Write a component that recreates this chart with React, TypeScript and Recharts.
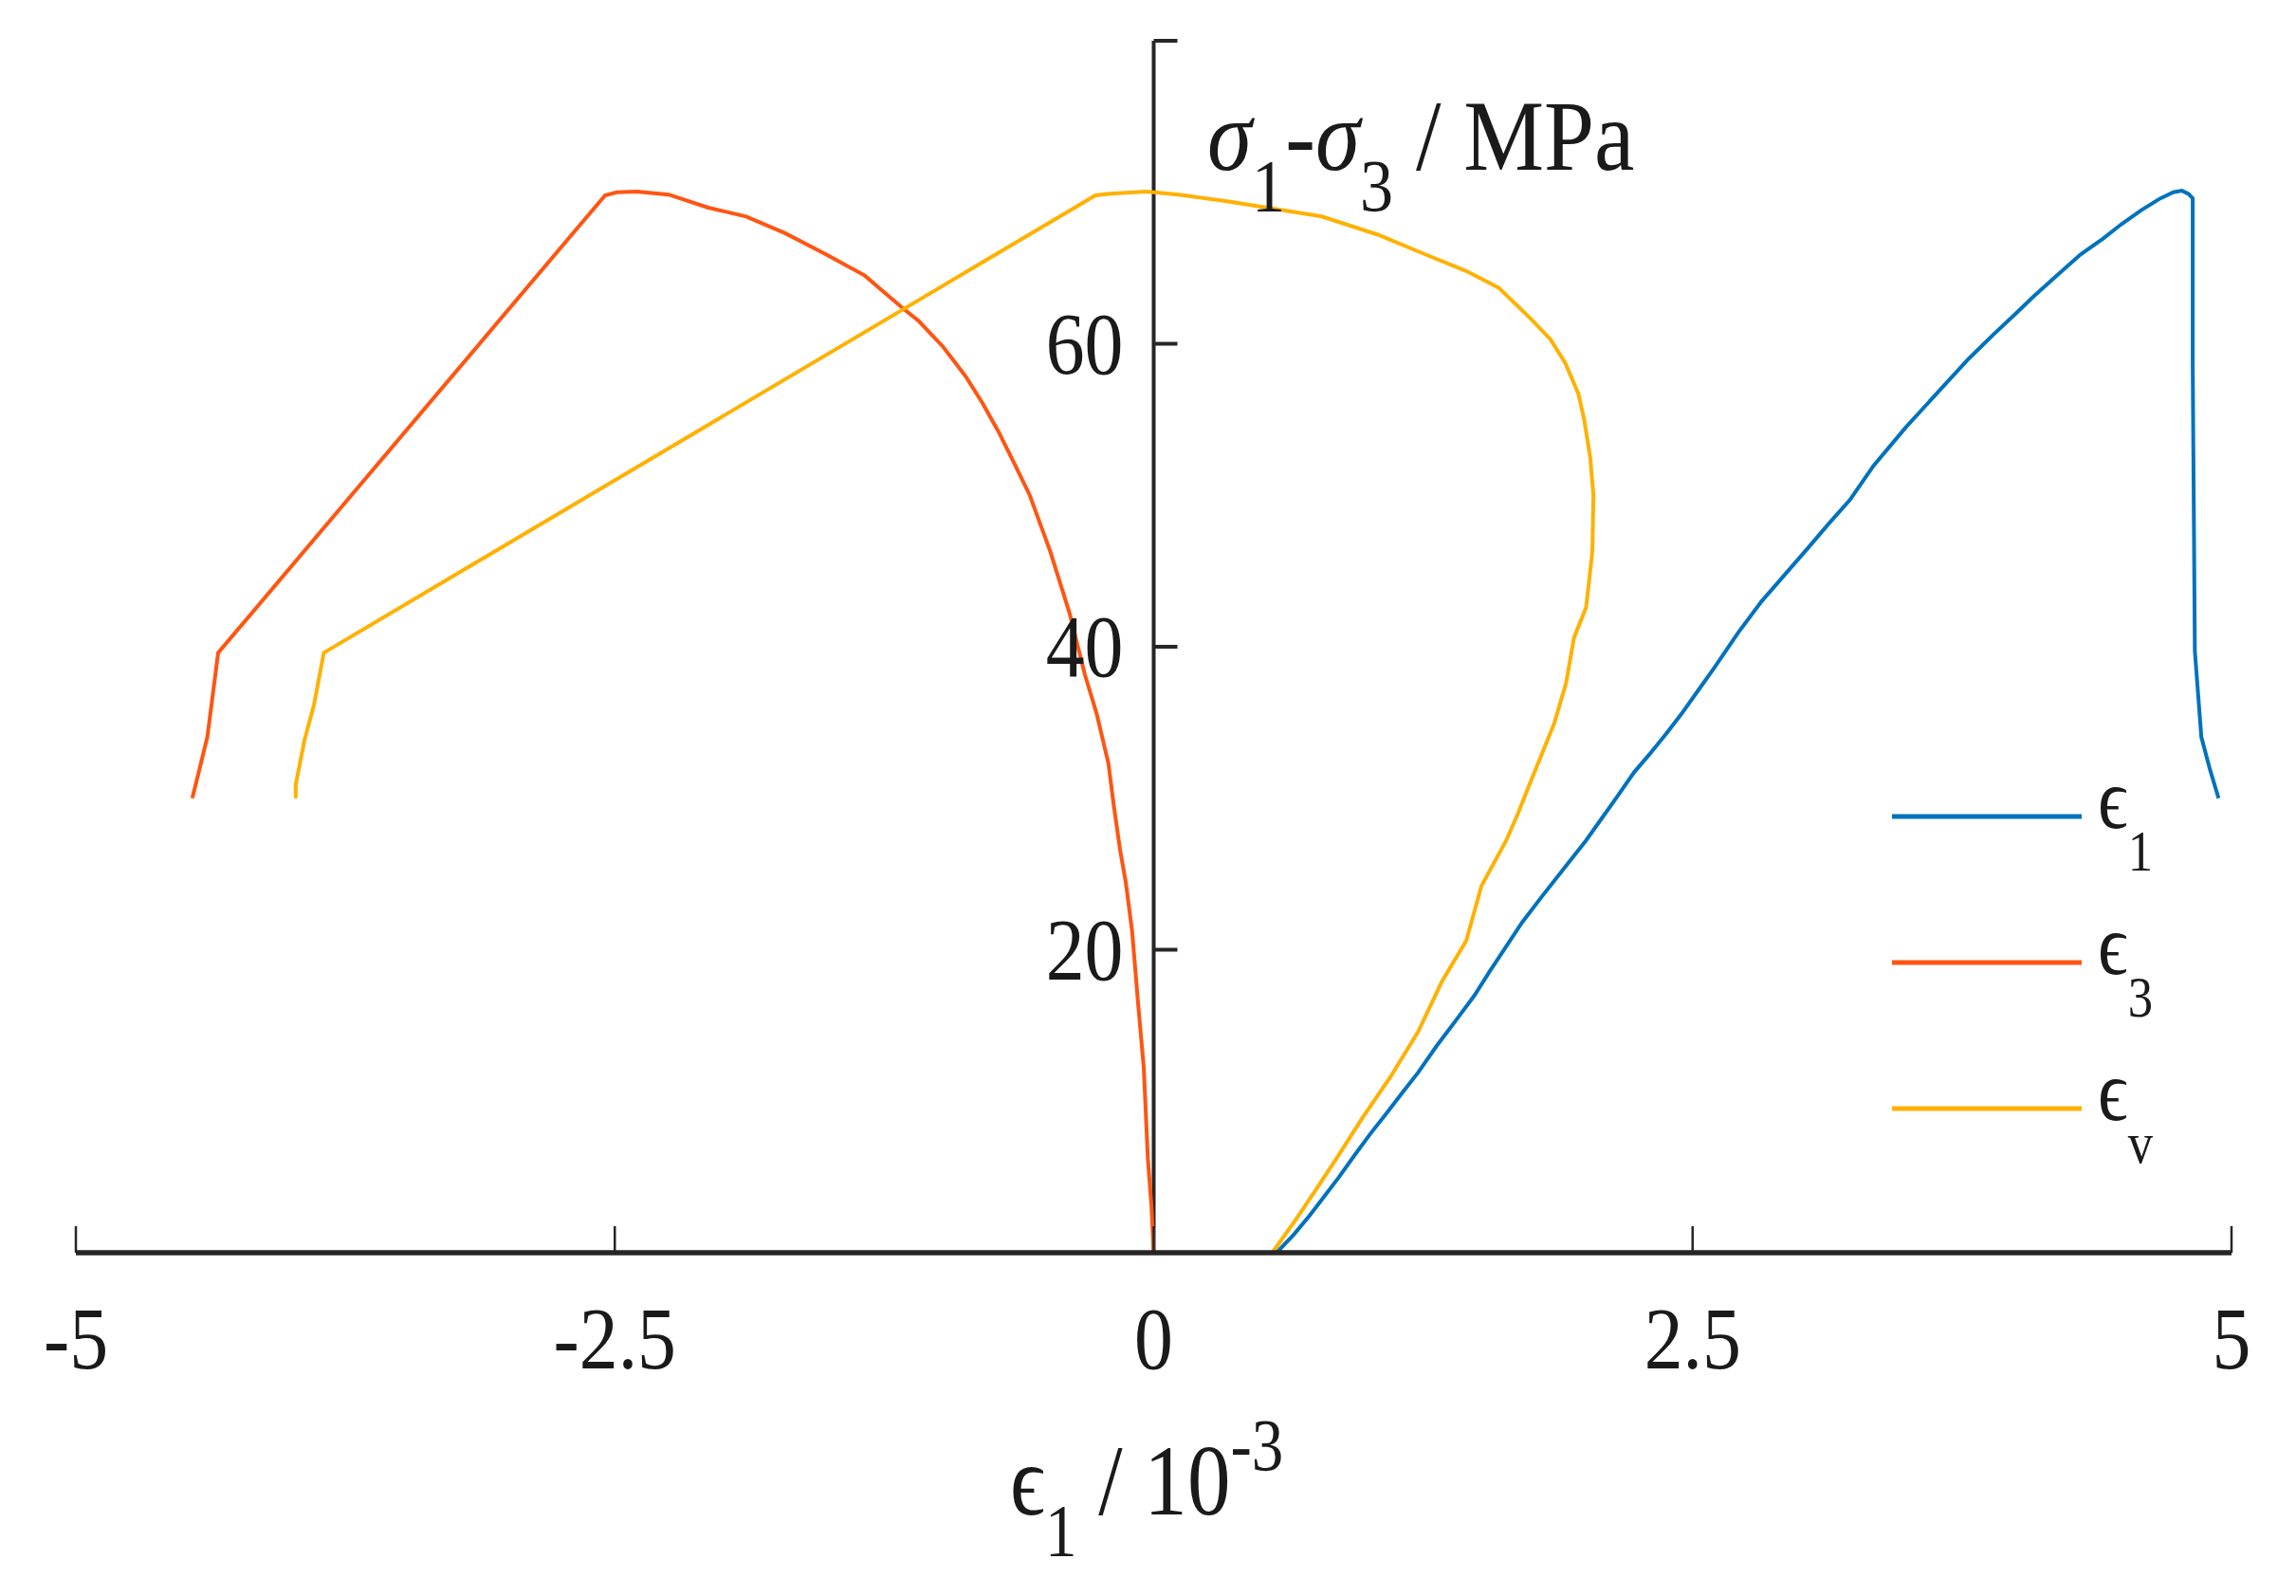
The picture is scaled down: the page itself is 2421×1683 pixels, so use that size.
import React from 'react';
import { LineChart, Line, XAxis, YAxis, ReferenceLine, Legend } from 'recharts';

// strain (10^-3) vs deviatoric stress (MPa)
const eps1: [number, number][] = [
  [0.57, 0], [0.65, 1.2], [0.72, 2.4], [0.78, 3.5], [0.86, 5.0], [0.93, 6.4],
  [1.005, 7.85], [1.08, 9.2], [1.15, 10.5], [1.227, 11.9], [1.31, 13.6], [1.4, 15.3],
  [1.487, 16.96], [1.56, 18.6], [1.63, 20.1], [1.709, 21.8], [1.8, 23.5], [1.9, 25.3],
  [2.005, 27.2], [2.08, 28.7], [2.15, 30.1], [2.228, 31.7], [2.3, 32.9], [2.38, 34.3],
  [2.45, 35.6], [2.53, 37.2], [2.6, 38.6], [2.71, 40.9], [2.82, 43.0], [2.93, 44.8],
  [3.04, 46.6], [3.13, 48.1], [3.23, 49.7], [3.34, 51.96], [3.49, 54.5], [3.58, 55.9],
  [3.67, 57.3], [3.78, 59.0], [3.895, 60.6], [4.0, 62.0], [4.08, 63.1], [4.19, 64.5],
  [4.3, 65.9], [4.4, 66.9], [4.49, 67.9], [4.58, 68.8], [4.67, 69.6], [4.73, 70.0],
  [4.77, 70.1], [4.8, 69.9], [4.82, 69.6], [4.82, 58.7], [4.83, 39.7], [4.86, 34.05],
  [4.9, 31.9], [4.94, 30.0],
];

const eps3: [number, number][] = [
  [0, 0], [-0.01, 3], [-0.027, 6.2], [-0.046, 12.2], [-0.072, 16.4], [-0.1, 21.2],
  [-0.13, 24.5], [-0.156, 26.6], [-0.185, 29.5], [-0.21, 32.3], [-0.265, 35.6],
  [-0.32, 38.2], [-0.39, 42.2], [-0.48, 46.3], [-0.575, 50.0], [-0.65, 52.2],
  [-0.72, 54.2], [-0.795, 56.1], [-0.87, 57.8], [-0.977, 59.8], [-1.09, 61.5],
  [-1.16, 62.3], [-1.25, 63.4], [-1.34, 64.5], [-1.52, 65.9], [-1.71, 67.3],
  [-1.89, 68.4], [-2.07, 69.0], [-2.25, 69.85], [-2.4, 70.05], [-2.49, 70.0],
  [-2.545, 69.8], [-4.34, 39.6], [-4.39, 34.05], [-4.42, 32.3], [-4.46, 30.0],
];

const epsV: [number, number][] = [
  [0.55, 0], [0.66, 2.2], [0.764, 4.4], [0.87, 6.7], [0.968, 8.9], [1.098, 11.6],
  [1.227, 14.6], [1.337, 17.9], [1.45, 20.6], [1.52, 24.2], [1.635, 27.2], [1.69, 29.0],
  [1.746, 31.0], [1.857, 34.9], [1.913, 37.6], [1.95, 40.6], [2.006, 42.6], [2.035, 46.3],
  [2.04, 50.0], [2.025, 52.5], [1.997, 55.0], [1.97, 56.7], [1.91, 58.7], [1.84, 60.3],
  [1.746, 61.7], [1.6, 63.7], [1.45, 64.8], [1.26, 65.9], [1.04, 67.2], [0.78, 68.4],
  [0.56, 68.9], [0.34, 69.4], [0.115, 69.85], [-0.033, 70.05], [-0.2, 69.9],
  [-0.27, 69.8], [-3.85, 39.6], [-3.895, 36.2], [-3.94, 33.8], [-3.98, 30.9], [-3.98, 30.0],
];

const X_TICKS = [-5, -2.5, 0, 2.5, 5];
const Y_TICKS = [20, 40, 60, 80];
const X_DOMAIN: [number, number] = [-5, 5];
const Y_DOMAIN: [number, number] = [0, 80];

const SERIES = [
  { name: 'ϵ1', color: '#0072BD', points: eps1 },
  { name: 'ϵ3', color: '#FF5512', points: eps3 },
  { name: 'ϵv', color: '#FFB100', points: epsV },
];

const W = 2421;
const H = 1683;
const XAXIS_H = 60;
const MARGIN = { top: 43, right: 68, left: 79, bottom: 302 };
const PLOT_LEFT = MARGIN.left + 1;
const PLOT_W = W - PLOT_LEFT - MARGIN.right;
const AXIS_Y = H - MARGIN.bottom - XAXIS_H;
// pixel position of x = 0, where the y axis crosses
const X0 = PLOT_LEFT + (PLOT_W * (0 - X_DOMAIN[0])) / (X_DOMAIN[1] - X_DOMAIN[0]);

const FONT = '"Liberation Serif", "Times New Roman", "DejaVu Serif", serif';
const INK = '#262626';
const TEXT = '#1a1a1a';

const XTick = (props: any) => {
  const { x, payload } = props;
  return (
    <g>
      <line x1={x} x2={x} y1={AXIS_Y} y2={AXIS_Y - 28} stroke={INK} strokeWidth={2.5} />
      <text
        transform={`translate(${x},${AXIS_Y + 122}) scale(0.87,1)`}
        textAnchor="middle"
        fontFamily={FONT}
        fontSize={94}
        fill={TEXT}
      >
        {payload.value}
      </text>
    </g>
  );
};

const YTick = (props: any) => {
  const { y, payload } = props;
  return (
    <g>
      <line x1={X0} x2={X0 + 25} y1={y} y2={y} stroke={INK} strokeWidth={4} />
      {payload.value !== 80 && (
        <text
          transform={`translate(${X0 - 32},${y + 31}) scale(0.87,1)`}
          textAnchor="end"
          fontFamily={FONT}
          fontSize={94}
          fill={TEXT}
        >
          {payload.value}
        </text>
      )}
    </g>
  );
};

const XLabel = () => (
  <text
    transform="translate(1065,1597) scale(0.86,1)"
    fontFamily={FONT}
    fontSize={106}
    fill={TEXT}
  >
    <tspan>ϵ</tspan>
    <tspan fontSize={78} dy={43}>1</tspan>
    <tspan dy={-43}> / 10</tspan>
    <tspan fontSize={78} dy={-47}>-3</tspan>
  </text>
);

const YLabel = () => (
  <text
    transform="translate(1273,179) scale(0.9,1)"
    fontFamily={FONT}
    fontSize={106}
    fill={TEXT}
  >
    <tspan fontStyle="italic">σ</tspan>
    <tspan fontSize={78} dy={43}>1</tspan>
    <tspan dy={-43}>-</tspan>
    <tspan fontStyle="italic">σ</tspan>
    <tspan fontSize={78} dy={43}>3</tspan>
    <tspan dy={-43}> / MPa</tspan>
  </text>
);

const LegendBox = (props: any) => {
  const items = props.payload || [];
  return (
    <svg width={W} height={H} style={{ position: 'absolute', left: 0, top: 0 }}>
      {items.map((p: any, i: number) => {
        const y = 861 + i * 154;
        const name = String(p.value);
        return (
          <g key={name}>
            <line x1={1995} x2={2195} y1={y} y2={y} stroke={p.color} strokeWidth={5} />
            <text
              transform={`translate(2212,${y + 12}) scale(0.85,1)`}
              fontFamily={FONT}
              fontSize={92}
              fill={TEXT}
            >
              <tspan>{name.slice(0, 1)}</tspan>
              <tspan fontSize={62} dy={45}>{name.slice(1)}</tspan>
            </text>
          </g>
        );
      })}
    </svg>
  );
};

export default function App() {
  return (
    <div style={{ position: 'absolute', left: 0, top: 0, width: W, height: H, background: '#fff' }}>
      <LineChart width={W} height={H} margin={MARGIN}>
        <XAxis
          type="number"
          dataKey="x"
          domain={X_DOMAIN}
          ticks={X_TICKS}
          height={XAXIS_H}
          allowDataOverflow
          axisLine={{ stroke: INK, strokeWidth: 5.5 }}
          tickLine={false}
          tickSize={0}
          tickMargin={0}
          tick={<XTick />}
          label={<XLabel />}
        />
        <YAxis
          type="number"
          dataKey="y"
          domain={Y_DOMAIN}
          ticks={Y_TICKS}
          width={1}
          allowDataOverflow
          axisLine={false}
          tickLine={false}
          tickSize={0}
          tickMargin={0}
          tick={<YTick />}
          label={<YLabel />}
        />
        <ReferenceLine x={0} stroke={INK} strokeWidth={4} />
        <Legend
          layout="horizontal"
          align="center"
          verticalAlign="middle"
          wrapperStyle={{ position: 'absolute', left: 0, top: 0, width: W, height: H }}
          content={<LegendBox />}
        />
        {SERIES.map((s) => (
          <Line
            key={s.name}
            name={s.name}
            data={s.points.map(([x, y]) => ({ x, y }))}
            dataKey="y"
            type="linear"
            stroke={s.color}
            strokeWidth={4}
            dot={false}
            isAnimationActive={false}
          />
        ))}
      </LineChart>
    </div>
  );
}
